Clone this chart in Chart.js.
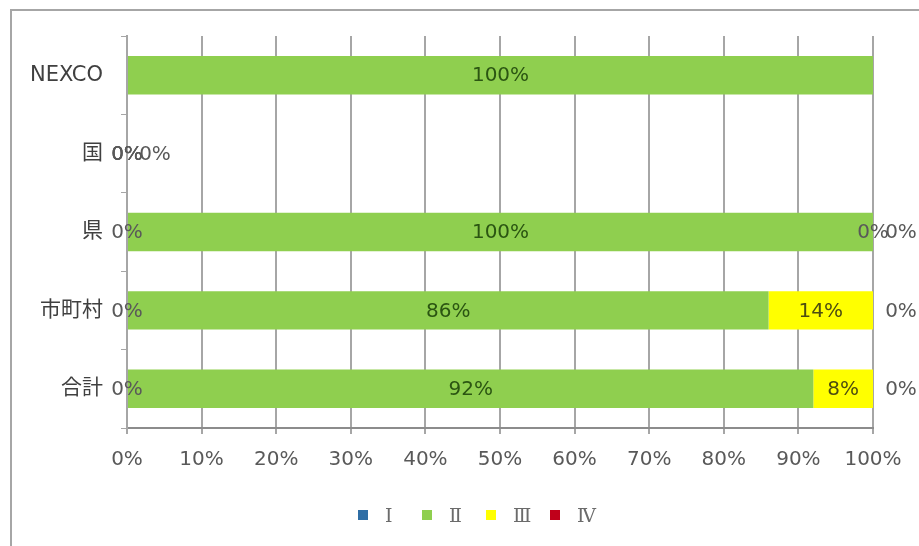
<!DOCTYPE html>
<html>
<head>
<meta charset="utf-8">
<script src="https://cdn.jsdelivr.net/npm/chart.js@4.4.0/dist/chart.umd.min.js"></script>
<style>
html, body { margin: 0; padding: 0; background: #fff; }
#contenedor { position: relative; width: 919px; height: 546px; overflow: hidden; }
#marco { position: absolute; left: 10px; top: 9px; width: 960px; height: 600px; border: 2px solid #a6a6a6; box-sizing: border-box; }
#graficoBarra { position: absolute; left: 0; top: 0; }
#leyenda { position: absolute; left: 358px; top: 503px; display: flex; font-family: "DejaVu Serif", "Noto Sans CJK JP", serif; font-size: 19px; color: #6b6b6b; line-height: 24px; }
#leyenda .item { width: 64px; display: flex; align-items: center; }
#leyenda .caja { width: 10px; height: 10px; margin-right: 17px; }
</style>
</head>
<body>
<div id="contenedor">
  <div id="marco"></div>
  <canvas id="graficoBarra" width="919" height="546"></canvas>
  <div id="leyenda"></div>
</div>
<script>
// categorias y porcentajes por nivel
var categorias = ['NEXCO', '国', '県', '市町村', '合計'];
var nivelI   = [null, 0, 0, 0, 0];
var nivelII  = [100, 0, 100, 86, 92];
var nivelIII = [null, 0, 0, 14, 8];
var nivelIV  = [null, 0, 0, 0, 0];
var nombresNivel = ['Ⅰ', 'Ⅱ', 'Ⅲ', 'Ⅳ'];
var coloresNivel = ['#2f6ea5', '#8fcf4f', '#ffff00', '#c0001a'];
var etiquetasX = ['0%', '10%', '20%', '30%', '40%', '50%', '60%', '70%', '80%', '90%', '100%'];

var fuente = '"DejaVu Sans", "Noto Sans CJK JP", sans-serif';

// dibuja el porcentaje de cada segmento (los 0% quedan en el borde de la barra)
var etiquetasDatos = {
    id: 'etiquetasDatos',
    afterDatasetsDraw: function (chart) {
        var ctx = chart.ctx;
        ctx.save();
        ctx.font = '20px ' + fuente;
        ctx.textAlign = 'center';
        ctx.textBaseline = 'middle';
        chart.data.datasets.forEach(function (ds, i) {
            chart.getDatasetMeta(i).data.forEach(function (bar, j) {
                var v = ds.data[j];
                if (v === null) return;
                var x = (bar.x + bar.base) / 2;
                if (v === 0) {
                    x += ds.desplazamiento;
                    ctx.fillStyle = '#595959';
                } else {
                    ctx.fillStyle = ds.colorEtiqueta;
                }
                ctx.fillText(v + '%', x, bar.y + 1);
            });
        });
        ctx.restore();
    }
};

var datosBarra = {
    labels: categorias,
    datasets: [
        { label: nombresNivel[0], data: nivelI,   backgroundColor: coloresNivel[0], colorEtiqueta: '#404040', desplazamiento: 0 },
        { label: nombresNivel[1], data: nivelII,  backgroundColor: coloresNivel[1], colorEtiqueta: '#2b5512', desplazamiento: 0 },
        { label: nombresNivel[2], data: nivelIII, backgroundColor: coloresNivel[2], colorEtiqueta: '#4d4d10', desplazamiento: 0 },
        { label: nombresNivel[3], data: nivelIV,  backgroundColor: coloresNivel[3], colorEtiqueta: '#404040', desplazamiento: 28 }
    ]
};

var opciones = {
    indexAxis: 'y',
    responsive: false,
    animation: false,
    categoryPercentage: 1,
    barPercentage: 0.49,
    layout: { padding: { top: 36, right: 46, bottom: 49, left: 0 } },
    scales: {
        x: {
            stacked: true,
            min: 0,
            max: 100,
            ticks: {
                stepSize: 10,
                autoSkip: false,
                maxRotation: 0,
                padding: 14,
                color: '#595959',
                font: { family: fuente, size: 20 },
                callback: function (v, i) { return etiquetasX[i]; }
            },
            grid: { color: '#a6a6a6', lineWidth: 2, tickLength: 6 },
            border: { color: '#8c8c8c', width: 2 },
            afterFit: function (s) { s.height = 69; }
        },
        y: {
            stacked: true,
            ticks: {
                padding: 18,
                color: '#404040',
                font: { family: fuente, size: 21 }
            },
            grid: { offset: true, drawOnChartArea: false, tickLength: 6, color: '#a6a6a6', lineWidth: 1 },
            border: { color: '#a6a6a6', width: 2 },
            afterFit: function (s) { s.width = 127; }
        }
    },
    plugins: {
        legend: { display: false },
        tooltip: { enabled: false }
    }
};

var ctxBarra = document.getElementById('graficoBarra').getContext('2d');
new Chart(ctxBarra, {
    type: 'bar',
    data: datosBarra,
    options: opciones,
    plugins: [etiquetasDatos]
});

// leyenda
var leyenda = document.getElementById('leyenda');
datosBarra.datasets.forEach(function (ds) {
    var item = document.createElement('div');
    item.className = 'item';
    var caja = document.createElement('span');
    caja.className = 'caja';
    caja.style.background = ds.backgroundColor;
    var texto = document.createElement('span');
    texto.textContent = ds.label;
    item.appendChild(caja);
    item.appendChild(texto);
    leyenda.appendChild(item);
});
</script>
</body>
</html>
